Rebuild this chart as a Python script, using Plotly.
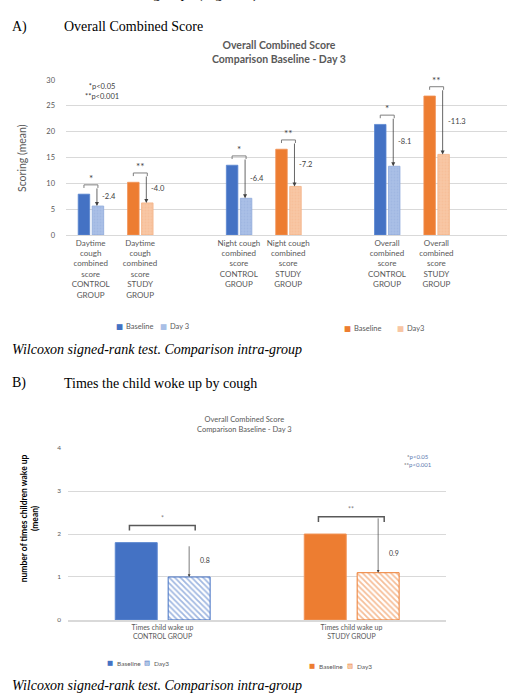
import plotly.graph_objects as go

W, H = 507, 695

# ---------------- data : chart A ----------------
A_labels = [
    "Daytime<br>cough<br>combined<br>score<br>CONTROL<br>GROUP",
    "Daytime<br>cough<br>combined<br>score<br>STUDY<br>GROUP",
    "Night cough<br>combined<br>score<br>CONTROL<br>GROUP",
    "Night cough<br>combined<br>score<br>STUDY<br>GROUP",
    "Overall<br>combined<br>score<br>CONTROL<br>GROUP",
    "Overall<br>combined<br>score<br>STUDY<br>GROUP",
]
A_ctrl_baseline = [7.9, 13.5, 21.4]
A_ctrl_day3 = [5.6, 7.1, 13.3]
A_study_baseline = [10.2, 16.6, 26.9]
A_study_day3 = [6.2, 9.4, 15.6]
A_ctrl_diff = ["-2.4", "-6.4", "-8.1"]
A_study_diff = ["-4.0", "-7.2", "-11.3"]
A_ctrl_sig = ["*", "*", "*"]
A_study_sig = ["**", "**", "**"]
A_yticks = [0, 5, 10, 15, 20, 25, 30]

# ---------------- data : chart B ----------------
B_labels = ["Times child wake up<br>CONTROL GROUP", "Times child wake up<br>STUDY GROUP"]
B_baseline = [1.8, 2.0]
B_day3 = [1.0, 1.1]
B_diff = ["0.8", "0.9"]
B_sig = ["*", "**"]
B_yticks = [0, 1, 2, 3, 4]

# ---------------- style ----------------
BLUE, BLUE_L, BLUE_LL = "#4472C4", "#A9BFE6", "#8EA9DB"
ORANGE, ORANGE_L, ORANGE_LL = "#ED7D31", "#F8C6A4", "#F4B183"
GRAY = "#595959"
DARK = "#404040"
GRID = "#D9D9D9"
FONT = "Lato"
SERIF = "Liberation Serif"

def px(x):
    return x / W

def py(y):
    return 1 - y / H

fig = go.Figure()

# slot positions on chart A (empty slot between each pair)
xc_A = [0, 3, 6]
xs_A = [1, 4, 7]
BW_A, OFFB_A, OFFD_A = 0.233, -0.253, 0.03

fig.add_bar(x=xc_A, y=A_ctrl_baseline, name="Baseline", width=BW_A, offset=OFFB_A,
            marker=dict(color=BLUE, line=dict(color="#5B86D0", width=0.8)), xaxis="x", yaxis="y")
fig.add_bar(x=xc_A, y=A_ctrl_day3, name="Day 3", width=BW_A, offset=OFFD_A,
            marker=dict(color=BLUE_L, line=dict(color=BLUE_LL, width=0.8),
                        pattern=dict(shape=".", fgcolor="#97B0DE", bgcolor=BLUE_L, size=3, solidity=0.3)),
            xaxis="x", yaxis="y")
fig.add_bar(x=xs_A, y=A_study_baseline, name="Baseline", width=BW_A, offset=OFFB_A,
            marker=dict(color=ORANGE, line=dict(color="#F19255", width=0.8)), xaxis="x", yaxis="y")
fig.add_bar(x=xs_A, y=A_study_day3, name="Day3", width=BW_A, offset=OFFD_A,
            marker=dict(color=ORANGE_L, line=dict(color=ORANGE_LL, width=0.8),
                        pattern=dict(shape=".", fgcolor="#F5B890", bgcolor=ORANGE_L, size=3, solidity=0.3)),
            xaxis="x", yaxis="y")

# chart B
BW_B, OFFB_B, OFFD_B = 0.222, -0.25, 0.03
fig.add_bar(x=[0], y=B_baseline[:1], name="Baseline", width=BW_B, offset=OFFB_B,
            marker=dict(color=BLUE, line=dict(color="#5B86D0", width=1)), xaxis="x2", yaxis="y2")
fig.add_bar(x=[0], y=B_day3[:1], name="Day3", width=BW_B, offset=OFFD_B,
            marker=dict(color="white", line=dict(color=BLUE, width=1),
                        pattern=dict(shape="\\", fgcolor=BLUE, bgcolor="white", size=4, solidity=0.45)),
            xaxis="x2", yaxis="y2")
fig.add_bar(x=[1], y=B_baseline[1:], name="Baseline", width=BW_B, offset=OFFB_B,
            marker=dict(color=ORANGE, line=dict(color="#F19255", width=1)), xaxis="x2", yaxis="y2")
fig.add_bar(x=[1], y=B_day3[1:], name="Day3", width=BW_B, offset=OFFD_B,
            marker=dict(color="white", line=dict(color=ORANGE, width=1),
                        pattern=dict(shape="\\", fgcolor=ORANGE, bgcolor="white", size=4, solidity=0.45)),
            xaxis="x2", yaxis="y2")

shapes = []
annotations = []

def ann(text, x, y, size, color=GRAY, family=FONT, xanchor="center", yanchor="middle",
        xref="paper", yref="paper", **kw):
    annotations.append(dict(text=text, x=x, y=y, xref=xref, yref=yref, showarrow=False,
                            xanchor=xanchor, yanchor=yanchor,
                            font=dict(size=size, color=color, family=family), **kw))

# ---- brackets / arrows chart A ----
bc_A = OFFB_A + BW_A / 2
dc_A = OFFD_A + BW_A / 2
for xs, bases, days, sigs, diffs in [(xc_A, A_ctrl_baseline, A_ctrl_day3, A_ctrl_sig, A_ctrl_diff),
                                     (xs_A, A_study_baseline, A_study_day3, A_study_sig, A_study_diff)]:
    for x, b, d, s, t in zip(xs, bases, days, sigs, diffs):
        yb = b + 1.8
        shapes.append(dict(type="path", xref="x", yref="y",
                           path=f"M{x+bc_A},{yb-0.6} L{x+bc_A},{yb} L{x+dc_A},{yb} L{x+dc_A},{yb-0.6}",
                           line=dict(color="#7F7F7F", width=1)))
        ann(s, x + (bc_A + dc_A) / 2, yb - 0.2, 10, color=DARK, xref="x", yref="y", yanchor="bottom")
        xa = x + dc_A - 0.02
        annotations.append(dict(x=xa, y=d, ax=xa, ay=yb - 0.4, xref="x", yref="y", axref="x", ayref="y",
                                showarrow=True, arrowhead=2, arrowsize=1, arrowwidth=0.8,
                                arrowcolor=DARK, text="", standoff=0))
        ann(t, xa + 0.06, (yb - 0.4 + d) / 2, 7.5, color=DARK, xref="x", yref="y", xanchor="left")

# ---- brackets / arrows chart B ----
B_arrow_start = ["bar", "bracket"]
for x, b, d, s, t, st in zip([0, 1], B_baseline, B_day3, B_sig, B_diff, B_arrow_start):
    yb = b + 0.4
    x0, x1 = x - 0.175, x + 0.173
    shapes.append(dict(type="path", xref="x2", yref="y2",
                       path=f"M{x0},{yb-0.12} L{x0},{yb} L{x1},{yb} L{x1},{yb-0.12}",
                       line=dict(color="#595959", width=1.5)))
    ann(s, (x0 + x1) / 2, yb + 0.04, 7, color="#7F7F7F", xref="x2", yref="y2", yanchor="bottom")
    xa = x + OFFD_B + BW_B / 2
    ytop = b - 0.05 if st == "bar" else yb
    annotations.append(dict(x=xa, y=d, ax=xa, ay=ytop, xref="x2", yref="y2", axref="x2", ayref="y2",
                            showarrow=True, arrowhead=2, arrowsize=0.8, arrowwidth=0.7,
                            arrowcolor=DARK, text="", standoff=0))
    ann(t, x + 0.225, (b + d) / 2, 7, color=DARK, xref="x2", yref="y2")

# ---- texts ----
ann("groups (Figure 2)", px(151), py(0.5), 15, color="black", family=SERIF, xanchor="left", yanchor="bottom")
ann("A)", px(10), py(23), 14, color="black", family=SERIF, xanchor="left")
ann("Overall Combined Score", px(62), py(23), 14, color="black", family=SERIF, xanchor="left")
ann("<b>Overall Combined Score</b><br><b>Comparison Baseline - Day 3</b>", px(279), py(49), 10.5)
ann("Scoring (mean)", px(22), py(156), 10.5, textangle=-90)
ann("*p<0.05<br>**p<0.001", px(102), py(89), 7.5, color=DARK)
ann("<i>Wilcoxon signed-rank test. Comparison intra-group</i>", px(10), py(350), 14,
    color="black", family=SERIF, xanchor="left")

ann("B)", px(10), py(384), 14, color="black", family=SERIF, xanchor="left")
ann("Times the child woke up by cough", px(62), py(384), 14, color="black", family=SERIF, xanchor="left")
ann("Overall Combined Score<br>Comparison Baseline - Day 3", px(244), py(426), 7.5)
ann("<b>number of times children wake up</b><br><b>(mean)</b>", px(29), py(521), 8.5,
    color="black", textangle=-90)
ann("*<span style='color:#5A78B0'>p<0.05</span><br>**<span style='color:#5A78B0'>p<0.001</span>",
    px(418), py(462), 6, color=DARK)
ann("<i>Wilcoxon signed-rank test. Comparison intra-group</i>", px(10), py(690), 14,
    color="black", family=SERIF, xanchor="left")

# ---- legends (small square keys, as in the original) ----
def key(x, y, color, label, size, glyph="\u25A0"):
    ann(glyph, px(x), py(y), size, color=color, family="DejaVu Sans")
    ann(label, px(x + 5), py(y), size, xanchor="left")

key(119, 327, BLUE, "Baseline", 7.5)
key(163, 327, BLUE_L, "Day 3", 7.5)
key(347, 329, ORANGE, "Baseline", 7.5)
key(400, 329, ORANGE_L, "Day3", 7.5)
key(110, 668, BLUE, "Baseline", 6.5)
key(147, 668, BLUE, "Day3", 6.5, glyph="\u25A7")
key(312, 671, ORANGE, "Baseline", 6.5)
key(350, 671, ORANGE, "Day3", 6.5, glyph="\u25A7")

fig.update_layout(
    width=W, height=H, margin=dict(l=0, r=0, t=0, b=0),
    paper_bgcolor="white", plot_bgcolor="white",
    barmode="overlay", showlegend=False,
    font=dict(family=FONT, color=GRAY),
    shapes=shapes, annotations=annotations,
    xaxis=dict(domain=[px(66), 1], range=[-0.5, 8.43], anchor="y",
               tickmode="array", tickvals=[0, 1, 3, 4, 6, 7], ticktext=A_labels,
               tickfont=dict(size=8, color=GRAY), showgrid=False, zeroline=False,
               showline=True, linecolor=GRID, linewidth=1, ticks=""),
    yaxis=dict(domain=[py(234), py(77)], range=[0, 30], anchor="x",
               tickmode="array", tickvals=A_yticks, tickfont=dict(size=7.5, color=GRAY),
               showgrid=True, gridcolor=GRID, zeroline=False, ticklabelstandoff=10),
    xaxis2=dict(domain=[px(68), px(446)], range=[-0.5, 1.5], anchor="y2",
                tickmode="array", tickvals=[0, 1], ticktext=B_labels,
                tickfont=dict(size=7, color=GRAY), showgrid=False, zeroline=False,
                showline=True, linecolor=GRID, linewidth=1.5, ticks=""),
    yaxis2=dict(domain=[py(624), py(450)], range=[0, 4], anchor="x2",
                tickmode="array", tickvals=B_yticks, tickfont=dict(size=6.5, color=GRAY),
                showgrid=True, gridcolor=GRID, gridwidth=1.2, zeroline=False, ticklabelstandoff=6),
)

fig.write_html("out.html")
